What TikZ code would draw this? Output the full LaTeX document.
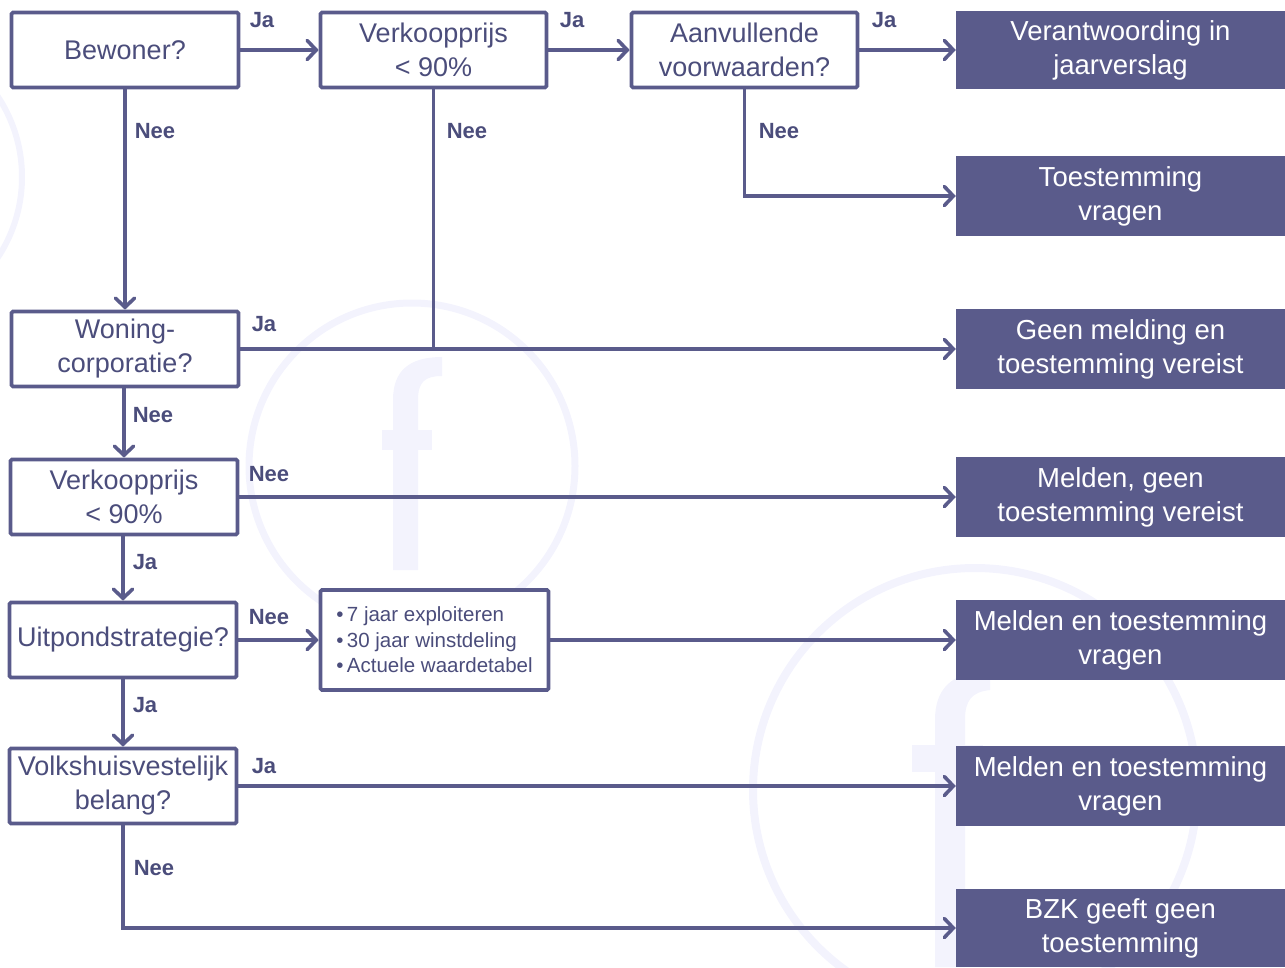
\documentclass[tikz,border=0pt]{standalone}
\usepackage{fontspec}
\setmainfont{Liberation Sans}
\usetikzlibrary{arrows.meta}
\definecolor{fc}{HTML}{5A5B8B}
\definecolor{tc}{HTML}{4B4D7B}
\definecolor{wm}{HTML}{F3F3FD}
\begin{document}
\begin{tikzpicture}[x=1pt,y=-1pt,
  qbox/.style={draw=fc, line width=3.6pt, rounded corners=1.5pt, fill=white, text=tc,
    font=\fontsize{27}{34}\selectfont, align=center, inner sep=0pt,
    minimum width=227pt, minimum height=75pt},
  rbox/.style={fill=fc, text=white, font=\fontsize{27.5}{34}\selectfont, align=center,
    inner sep=0pt, minimum width=329pt, minimum height=80pt},
  lbl/.style={text=tc, font=\fontsize{22}{24}\selectfont\bfseries, inner sep=0pt},
  conn/.style={draw=fc, line width=3.6pt},
  arr/.style={conn, -{Straight Barb[length=9pt,width=19pt,line width=3.6pt,line cap=round]}},
  wmline/.style={draw=wm},
]
\useasboundingbox (0,0) rectangle (1285,967);
% watermark
\draw[wmline, line width=6pt] (-124,177) circle (146);
\draw[wmline, line width=7pt] (412,466) circle (163);
\draw[wmline, line width=8pt] (975,790) circle (222);
\fill[wm] (393,570) -- (393,400) .. controls (393,370) and (410,357) .. (442,357) -- (442,376) .. controls (425,376) and (418,382) .. (418,400) -- (418,570) -- cycle;
\fill[wm] (382,430) rectangle (432,450);
\fill[wm] (935,967) -- (935,720) .. controls (935,690) and (950,672) .. (990,670) -- (990,690) .. controls (972,692) and (965,700) .. (965,720) -- (965,967) -- cycle;
\fill[wm] (912,745) rectangle (983,772);

% question boxes
\node[qbox] (bew) at (125,50) {Bewoner?};
\node[qbox, minimum width=226pt] (vk1) at (433.5,50) {Verkoopprijs\\< 90\%};
\node[qbox, minimum width=226pt] (aan) at (744.5,50) {Aanvullende\\voorwaarden?};
\node[qbox] (won) at (125,349) {Woning-\\corporatie?};
\node[qbox] (vk2) at (124,497) {Verkoopprijs\\< 90\%};
\node[qbox] (uit) at (123,640) {Uitpondstrategie?};
\node[qbox] (vol) at (123,786) {Volkshuisvestelijk\\belang?};
\node[qbox, minimum width=228pt, minimum height=100pt, align=left,
  font=\fontsize{20.5}{25.5}\selectfont] (bul) at (434.5,640)
  {•\,7 jaar exploiteren\\•\,30 jaar winstdeling\\•\,Actuele waardetabel};

% result boxes
\node[rbox, minimum height=78pt] (r1) at (1120.5,50) {Verantwoording in\\jaarverslag};
\node[rbox] (r2) at (1120.5,196) {Toestemming\\vragen};
\node[rbox] (r3) at (1120.5,349) {Geen melding en\\toestemming vereist};
\node[rbox] (r4) at (1120.5,497) {Melden, geen\\toestemming vereist};
\node[rbox] (r5) at (1120.5,640) {Melden en toestemming\\vragen};
\node[rbox] (r6) at (1120.5,786) {Melden en toestemming\\vragen};
\node[rbox, minimum height=78pt] (r7) at (1120.5,928) {BZK geeft geen\\toestemming};

% connectors
\draw[arr] (bew.east) -- (vk1.west);
\draw[arr] (vk1.east) -- (aan.west);
\draw[arr] (aan.east) -- (r1.west);
\draw[arr] (aan.south) |- (r2.west);
\draw[arr] (bew.south) -- (won.north);
\draw[conn] (vk1.south) -- (vk1.south |- won.east);
\draw[arr] (won.east) -- (r3.west);
\draw[arr] (won.south -| vk2.north) -- (vk2.north);
\draw[arr] (vk2.east) -- (r4.west);
\draw[arr] (vk2.south -| uit.north) -- (uit.north);
\draw[arr] (uit.east) -- (bul.west);
\draw[arr] (bul.east) -- (r5.west);
\draw[arr] (uit.south) -- (vol.north);
\draw[arr] (vol.east) -- (r6.west);
\draw[arr] (vol.south) |- (r7.west);

% labels
\node[lbl] (l1) at (262,20) {Ja};
\node[lbl] (l2) at (572,20) {Ja};
\node[lbl] (l3) at (884,20) {Ja};
\node[lbl] (l4) at (155,131) {Nee};
\node[lbl] (l5) at (467,131) {Nee};
\node[lbl] (l6) at (779,131) {Nee};
\node[lbl] (l7) at (264,324) {Ja};
\node[lbl] (l8) at (153,415) {Nee};
\node[lbl] (l9) at (269,474) {Nee};
\node[lbl] (l10) at (145,562) {Ja};
\node[lbl] (l11) at (269,617) {Nee};
\node[lbl] (l12) at (145,705) {Ja};
\node[lbl] (l13) at (264,766) {Ja};
\node[lbl] (l14) at (154,868) {Nee};
\end{tikzpicture}
\end{document}
